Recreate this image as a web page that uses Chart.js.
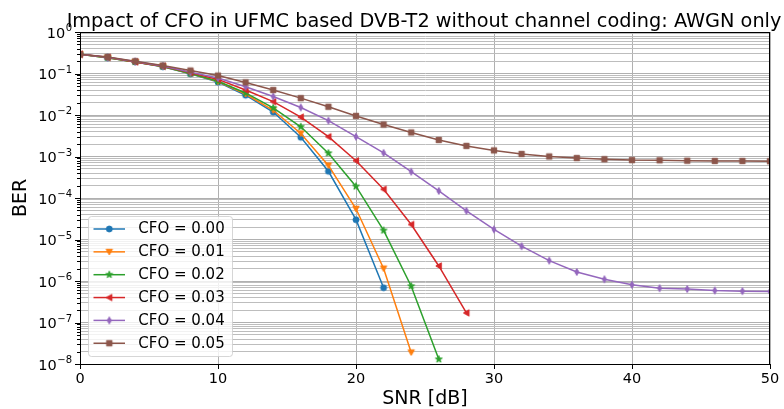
<!DOCTYPE html>
<html>
<head>
<meta charset="utf-8">
<title>Impact of CFO in UFMC based DVB-T2</title>
<script src="https://cdn.jsdelivr.net/npm/chart.js@4.4.1/dist/chart.umd.min.js"></script>
<style>
  html, body { margin: 0; padding: 0; background: #fff; }
  canvas { display: block; }
</style>
</head>
<body>
<canvas id="ber-chart" width="784" height="409"></canvas>
<script>
const SNR_DB = [0, 2, 4, 6, 8, 10, 12, 14, 16, 18, 20, 22, 24, 26, 28, 30, 32, 34, 36, 38, 40, 42, 44, 46, 48, 50];

const CFO_LABELS = ["CFO = 0.00", "CFO = 0.01", "CFO = 0.02", "CFO = 0.03", "CFO = 0.04", "CFO = 0.05"];

// BER per SNR point; shorter series stop where the simulation hit zero errors
const BER_CFO_000 = [0.29, 0.24, 0.19, 0.145, 0.098, 0.062, 0.030, 0.0118, 0.0029, 0.00044, 3.0e-5, 6.9e-7];
const BER_CFO_001 = [0.29, 0.24, 0.19, 0.148, 0.100, 0.064, 0.032, 0.0130, 0.0036, 0.00061, 5.5e-5, 2.0e-6, 1.9e-8];
const BER_CFO_002 = [0.29, 0.24, 0.19, 0.148, 0.100, 0.065, 0.034, 0.0148, 0.0052, 0.00120, 0.00019, 1.65e-5, 7.5e-7, 1.3e-8];
const BER_CFO_003 = [0.29, 0.245, 0.19, 0.150, 0.105, 0.072, 0.040, 0.021, 0.0089, 0.0030, 0.00079, 0.000162, 2.3e-5, 2.3e-6, 1.7e-7];
const BER_CFO_004 = [0.29, 0.245, 0.195, 0.152, 0.108, 0.078, 0.048, 0.028, 0.0152, 0.0073, 0.0030, 0.00122, 0.00043, 0.000148,
  4.9e-5, 1.75e-5, 6.9e-6, 3.1e-6, 1.65e-6, 1.1e-6, 8.1e-7, 6.7e-7, 6.4e-7, 5.9e-7, 5.7e-7, 5.6e-7];
const BER_CFO_005 = [0.29, 0.25, 0.198, 0.155, 0.118, 0.089, 0.061, 0.040, 0.0255, 0.0158, 0.0095, 0.0059, 0.0038, 0.0025,
  0.0018, 0.0014, 0.00115, 0.00100, 0.00092, 0.00086, 0.00082, 0.00081, 0.00079, 0.00078, 0.00078, 0.00077];

const X_TICKS = [0, 10, 20, 30, 40, 50];
const Y_DECADES = [-8, -7, -6, -5, -4, -3, -2, -1, 0];

const SERIES = [BER_CFO_000, BER_CFO_001, BER_CFO_002, BER_CFO_003, BER_CFO_004, BER_CFO_005];
const COLORS = ["#1f77b4", "#ff7f0e", "#2ca02c", "#d62728", "#9467bd", "#8c564b"];
const MARKERS = ["circle", "tri_down", "star", "tri_left", "thin_diamond", "square"];

const FONT = "'DejaVu Sans', sans-serif";
const GRID = "#b0b0b0";
const GRID_MINOR = "#bdbdbd";

// small canvases used as point styles, matplotlib-like shapes
function makeMarker(shape, color) {
  const c = document.createElement("canvas");
  c.width = 12;
  c.height = 12;
  const g = c.getContext("2d");
  g.translate(6, 6);
  g.fillStyle = color;
  g.strokeStyle = color;
  g.lineWidth = 1;
  g.beginPath();
  switch (shape) {
    case "circle":
      g.arc(0, 0, 3, 0, Math.PI * 2);
      break;
    case "tri_down":
      g.moveTo(0, 3);
      g.lineTo(-3.2, -2.6);
      g.lineTo(3.2, -2.6);
      break;
    case "tri_left":
      g.moveTo(-3, 0);
      g.lineTo(2.6, -3.2);
      g.lineTo(2.6, 3.2);
      break;
    case "star":
      for (let k = 0; k < 10; k++) {
        const a = -Math.PI / 2 + (k * Math.PI) / 5;
        const r = k % 2 === 0 ? 3.6 : 1.45;
        const px = r * Math.cos(a);
        const py = r * Math.sin(a);
        if (k === 0) g.moveTo(px, py);
        else g.lineTo(px, py);
      }
      break;
    case "thin_diamond":
      g.moveTo(0, -3.5);
      g.lineTo(2, 0);
      g.lineTo(0, 3.5);
      g.lineTo(-2, 0);
      break;
    case "square":
      g.rect(-2.7, -2.7, 5.4, 5.4);
      break;
  }
  g.closePath();
  g.fill();
  g.stroke();
  return c;
}

const markerImages = MARKERS.map((m, i) => makeMarker(m, COLORS[i]));

const datasets = SERIES.map((ber, i) => ({
  label: CFO_LABELS[i],
  data: ber.map((y, j) => ({ x: SNR_DB[j], y })),
  borderColor: COLORS[i],
  backgroundColor: COLORS[i],
  borderWidth: 1.5,
  pointStyle: markerImages[i],
  pointRadius: 4,
  pointHoverRadius: 4,
  tension: 0,
  clip: 0,
  order: SERIES.length - i,
}));

function supLabel(exp) {
  return String(exp).replace("-", "\u2212");
}

const decorPlugin = {
  id: "decor",
  afterDraw(chart) {
    const { ctx, chartArea } = chart;
    const yScale = chart.scales.y;
    const { left, right, top, bottom } = chartArea;
    ctx.save();

    // y tick marks and 10^n labels
    ctx.strokeStyle = "#000";
    ctx.lineWidth = 1;
    yScale.ticks.forEach((t) => {
      const py = Math.round(yScale.getPixelForValue(t.value)) + 0.5;
      const len = t.major ? 5 : 3;
      ctx.beginPath();
      ctx.moveTo(left - len, py);
      ctx.lineTo(left, py);
      ctx.stroke();
    });
    ctx.fillStyle = "#000";
    ctx.textBaseline = "alphabetic";
    ctx.textAlign = "right";
    Y_DECADES.forEach((e) => {
      const py = yScale.getPixelForValue(Math.pow(10, e));
      const sup = supLabel(e);
      ctx.font = "10px " + FONT;
      const supW = ctx.measureText(sup).width;
      ctx.fillText(sup, 72, py - 0.8);
      ctx.font = "14.5px " + FONT;
      ctx.fillText("10", 72 - supW - 0.5, py + 5.5);
    });

    // axes frame
    ctx.strokeStyle = "#000";
    ctx.lineWidth = 1;
    ctx.strokeRect(Math.round(left) + 0.5, Math.round(top) + 0.5, Math.round(right - left) - 1, Math.round(bottom - top));

    // title
    ctx.font = "19.3px " + FONT;
    ctx.textAlign = "center";
    ctx.fillText("Impact of CFO in UFMC based DVB-T2 without channel coding: AWGN only", 424, 26.5);

    // legend
    const bx = 88.5, by = 216.5, bw = 144, bh = 140;
    ctx.beginPath();
    ctx.roundRect(bx, by, bw, bh, 3);
    ctx.fillStyle = "rgba(255,255,255,0.8)";
    ctx.fill();
    ctx.strokeStyle = "rgba(204,204,204,0.8)";
    ctx.stroke();
    ctx.font = "15px " + FONT;
    ctx.textAlign = "left";
    ctx.textBaseline = "middle";
    CFO_LABELS.forEach((label, i) => {
      const ry = 229 + i * 22.85;
      ctx.strokeStyle = COLORS[i];
      ctx.lineWidth = 1.5;
      ctx.beginPath();
      ctx.moveTo(93.5, ry);
      ctx.lineTo(125, ry);
      ctx.stroke();
      ctx.drawImage(markerImages[i], 109.3 - 6, ry - 6);
      ctx.fillStyle = "#000";
      ctx.fillText(label, 138.3, ry + 0.5);
    });

    ctx.restore();
  },
};

new Chart(document.getElementById("ber-chart"), {
  type: "line",
  data: { datasets },
  options: {
    responsive: false,
    devicePixelRatio: 1,
    animation: false,
    layout: { padding: { top: 32, right: 14, left: 0, bottom: 0 } },
    plugins: {
      legend: { display: false },
      tooltip: { enabled: false },
      title: { display: false },
    },
    scales: {
      x: {
        type: "linear",
        min: 0,
        max: 50,
        afterBuildTicks: (scale) => {
          scale.ticks = X_TICKS.map((v) => ({ value: v }));
        },
        afterFit: (scale) => {
          scale.height = 45;
        },
        ticks: {
          color: "#000",
          font: { family: FONT, size: 14.5 },
          padding: 2,
          maxRotation: 0,
        },
        grid: { color: GRID, lineWidth: 1, tickColor: "#000", tickLength: 5, tickWidth: 1 },
        border: { display: true, color: "#000", width: 1 },
        title: {
          display: true,
          text: "SNR [dB]",
          color: "#000",
          font: { family: FONT, size: 19, lineHeight: 1 },
          padding: { top: 0, bottom: 0 },
        },
      },
      y: {
        type: "logarithmic",
        min: 1e-8,
        max: 1,
        afterBuildTicks: (scale) => {
          const ticks = [];
          Y_DECADES.forEach((e) => {
            ticks.push({ value: Math.pow(10, e), major: true });
            if (e < 0) {
              for (let m = 2; m <= 9; m++) ticks.push({ value: m * Math.pow(10, e), major: false });
            }
          });
          scale.ticks = ticks;
        },
        afterFit: (scale) => {
          scale.width = 80;
        },
        ticks: { display: false },
        grid: {
          color: (c) => (c.tick && c.tick.major ? GRID : GRID_MINOR),
          lineWidth: 1,
          drawTicks: false,
        },
        border: { display: true, color: "#000", width: 1 },
        title: {
          display: true,
          text: "BER",
          color: "#000",
          font: { family: FONT, size: 19, lineHeight: 1 },
          padding: { top: 11.5, bottom: 0 },
        },
      },
    },
  },
  plugins: [decorPlugin],
});
</script>
</body>
</html>
